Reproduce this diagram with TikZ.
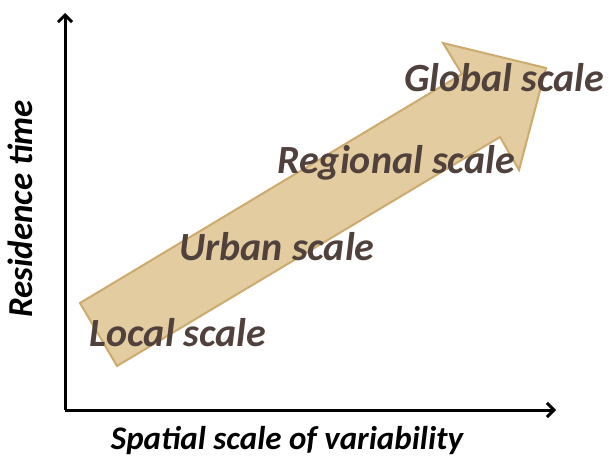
\documentclass[tikz,border=0pt]{standalone}
\usepackage{fontspec}
\setmainfont{Carlito}
\usepackage{tikz}
\usetikzlibrary{arrows.meta}

\definecolor{scalefill}{HTML}{E2CCA0}
\definecolor{scaledraw}{HTML}{CDAA6E}
\definecolor{scaletext}{HTML}{50413C}

\tikzset{
  axis/.style={line width=3pt, -{Straight Barb[length=7pt, width=14pt, line width=3pt]}},
  scalelabel/.style={text=scaletext, font=\fontsize{40}{44}\selectfont\bfseries\itshape},
  axislabel/.style={font=\fontsize{33}{38}\selectfont\bfseries\itshape}
}

\begin{document}
\begin{tikzpicture}[x=1pt, y=1pt]
        \useasboundingbox (0, 0) rectangle (609, 459);
        % axes
        \coordinate (origin) at (65, 49);
        \coordinate (ytip) at (65, 446);
        \coordinate (xtip) at (556, 49);
        \draw[axis] (origin) -- (ytip);
        \draw[axis] (origin) -- (xtip);
        % the big arrow
        \draw[fill=scalefill, draw=scaledraw, line width=2pt, line join=miter]
            (80, 156) -- (117, 93) -- (500, 322) -- (519, 289)
            -- (546, 391) -- (443, 416) -- (462, 385) -- cycle;
        \node[scalelabel] (global) at (504, 381) {Global scale};
        \node[scalelabel] (regional) at (396, 296) {Regional scale};
        \node[scalelabel] (urban) at (277, 212) {Urban scale};
        \node[scalelabel] (local) at (178, 126) {Local scale};
        \node[axislabel, font=\fontsize{35}{40}\selectfont\bfseries\itshape, rotate=90] (ylabel) at (20, 250) {Residence time};
        \node[axislabel] (xlabel) at (287, 18) {Spatial scale of variability};
    \end{tikzpicture}
\end{document}
